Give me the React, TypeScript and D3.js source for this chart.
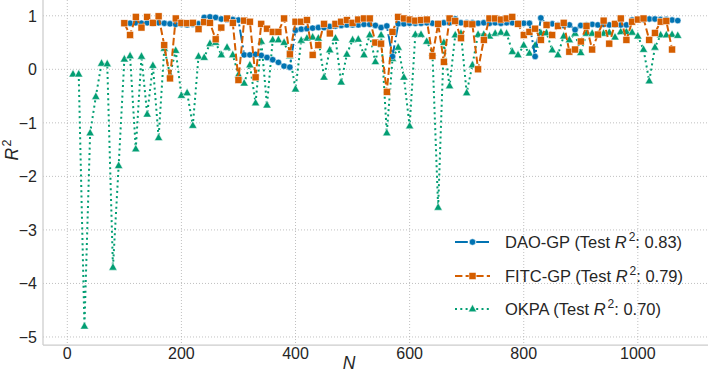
import React from "react";
import * as d3 from "d3";

// sample sizes and test R^2 per model
const daoN = [100, 110, 120, 130, 140, 150, 160, 170, 180, 190, 200, 210, 220, 230, 240, 250, 260, 270, 280, 290,
  300, 310, 320, 330, 340, 350, 360, 370, 380, 390, 400, 410, 420, 430, 440, 450, 460, 470, 480, 490,
  500, 510, 520, 530, 540, 550, 560, 570, 580, 590, 600, 610, 620, 630, 640, 650, 660, 670, 680, 690,
  700, 710, 720, 730, 740, 750, 760, 770, 780, 790, 800, 810, 820, 830, 840, 850, 860, 870, 880, 890,
  900, 910, 920, 930, 940, 950, 960, 970, 980, 990, 1000, 1010, 1020, 1030, 1040, 1050, 1060, 1070];
const daoR2 = [0.86, 0.86, 0.87, 0.86, 0.87, 0.86, 0.87, 0.86, 0.85, 0.84, 0.84, 0.83, 0.84, 0.85, 0.97, 0.98, 0.97, 0.94, 0.93, 0.93,
  0.92, 0.27, 0.27, 0.28, 0.26, 0.22, 0.18, 0.13, 0.06, 0.04, 0.73, 0.75, 0.76, 0.77, 0.78, 0.78, 0.8, 0.81, 0.82, 0.83,
  0.83, 0.83, 0.84, 0.84, 0.82, 0.78, 0.81, 0.24, 0.85, 0.85, 0.86, 0.86, 0.86, 0.87, 0.86, 0.86, 0.87, 0.87, 0.94, 0.87,
  0.87, 0.87, 0.86, 0.87, 0.86, 0.87, 0.86, 0.87, 0.87, 0.86, 0.86, 0.86, 0.24, 0.96, 0.84, 0.85, 0.83, 0.82, 0.83, 0.74,
  0.82, 0.83, 0.84, 0.83, 0.84, 0.83, 0.83, 0.83, 0.83, 0.92, 0.93, 0.93, 0.94, 0.94, 0.93, 0.93, 0.92, 0.91];

const fitcN = [100, 110, 120, 130, 140, 150, 160, 170, 180, 190, 200, 210, 220, 230, 240, 250, 260, 270, 280, 290,
  300, 310, 320, 330, 340, 350, 360, 370, 380, 390, 400, 410, 420, 430, 440, 450, 460, 470, 480, 490,
  500, 510, 520, 530, 540, 550, 560, 570, 580, 590, 600, 610, 620, 630, 640, 650, 660, 670, 680, 690,
  700, 710, 720, 730, 740, 750, 760, 770, 780, 790, 800, 810, 820, 830, 840, 850, 860, 870, 880, 890,
  900, 910, 920, 930, 940, 950, 960, 970, 980, 990, 1000, 1010, 1020, 1030, 1040, 1050, 1060];
const fitcR2 = [0.86, 0.64, 0.98, 0.78, 0.98, 0.87, 0.99, 0.45, -0.17, 0.95, 0.87, 0.86, 0.87, 0.75, 0.88, 0.87, 0.56, 0.78, 0.95, 0.87,
  -0.2, 0.91, 0.89, -0.15, 0.85, 0.76, 0.7, 0.7, 0.95, 0.28, 0.89, 0.89, 0.92, 0.27, 0.45, 0.85, 0.67, 0.85, 0.89, 0.92,
  0.87, 0.93, 0.95, 0.95, 0.5, 0.48, -0.42, 0.7, 0.98, 0.95, 0.93, 0.91, 0.92, 0.93, 0.25, 0.85, 0.14, 0.95, 0.9, 0.58,
  0.85, 0.84, 0.0, 0.55, 0.95, 0.95, 0.93, 0.95, 0.98, 0.85, 0.64, 0.7, 0.76, 0.55, 0.83, 0.64, 0.81, 0.87, 0.33, 0.37,
  0.52, 0.81, 0.37, 0.65, 0.91, 0.48, 0.85, 0.95, 0.55, 0.89, 0.93, 0.95, 0.55, 0.68, 0.89, 0.9, 0.37];

const okpaN = [10, 20, 30, 40, 50, 60, 70, 80, 90, 100, 110, 120, 130, 140, 150, 160, 170, 180, 190, 200,
  210, 220, 230, 240, 250, 260, 270, 280, 290, 300, 310, 320, 330, 340, 350, 360, 370, 380, 390, 400,
  410, 420, 430, 440, 450, 460, 470, 480, 490, 500, 510, 520, 530, 540, 550, 560, 570, 580, 590, 600,
  610, 620, 630, 640, 650, 660, 670, 680, 690, 700, 710, 720, 730, 740, 750, 760, 770, 780, 790, 800,
  810, 820, 830, 840, 850, 860, 870, 880, 890, 900, 910, 920, 930, 940, 950, 960, 970, 980, 990, 1000,
  1010, 1020, 1030, 1040, 1050, 1060, 1070];
const okpaR2 = [-0.09, -0.09, -4.8, -1.19, -0.51, 0.11, 0.1, -3.7, -1.8, 0.19, 0.25, -1.49, 0.24, -0.84, 0.07, -1.28, 0.39, -0.1, 0.35, -0.49,
  -0.44, -1.05, 0.24, 0.22, 0.48, 0.5, 0.27, 0.41, 0.27, -0.1, -0.26, 0.08, -0.63, 0.52, -0.67, 0.55, 0.55, 0.5, 0.25, -0.37,
  0.54, 0.58, 0.6, 0.58, -0.15, 0.36, 0.58, -0.24, 0.28, 0.55, 0.56, 0.27, 0.64, 0.14, 0.64, -1.19, 0.2, 0.41, -0.15, -1.06,
  0.65, 0.65, 0.52, 0.3, -2.58, 0.5, -0.31, 0.64, 0.67, -0.44, 0.08, 0.65, 0.65, 0.62, 0.67, 0.69, 0.67, 0.33, 0.27, 0.45,
  0.3, 0.45, 0.68, 0.68, 0.36, 0.27, 0.62, 0.55, 0.67, 0.31, 0.67, 0.67, 0.65, 0.67, 0.69, 0.6, 0.7, 0.7, 0.69, 0.62,
  0.37, -0.22, 0.41, 0.64, 0.64, 0.65, 0.63];

const xTicks = [0, 200, 400, 600, 800, 1000];
const yTicks = [-5, -4, -3, -2, -1, 0, 1];

const legendNames = ["DAO-GP", "FITC-GP", "OKPA"];
const legendScores = ["0.83", "0.79", "0.70"];

const W = 716;
const H = 372;
const left = 43, right = 708, top = 0, bottom = 345;
const font = "'Liberation Sans', Arial, sans-serif";
const ink = "#262626";

const colors = ["#0173b2", "#d55e00", "#029e73"];
const dashes = ["12.8,3.2,2,3.2", "7.4,3.2", "2,3.3"];

function Marker({ kind, cx, cy, color }) {
  if (kind === 0) {
    return <circle cx={cx} cy={cy} r={3.2} fill={color} stroke="#fff" strokeWidth={0.5} />;
  }
  if (kind === 1) {
    const s = 7;
    return <rect x={cx - s / 2} y={cy - s / 2} width={s} height={s} fill={color} stroke="#fff" strokeWidth={0.5} />;
  }
  const r = 4.6;
  const p = d3.path();
  p.moveTo(cx, cy - r);
  p.lineTo(cx + r * 0.9, cy + r * 0.6);
  p.lineTo(cx - r * 0.9, cy + r * 0.6);
  p.closePath();
  return <path d={p.toString()} fill={color} stroke="#fff" strokeWidth={0.5} />;
}

export default function App() {
  const x = d3.scaleLinear().domain([-42.6, 1123]).range([left, right]);
  const y = d3.scaleLinear().domain([-5.15, 1.295]).range([bottom, top]);

  const series = [
    { kind: 0, N: daoN, v: daoR2 },
    { kind: 1, N: fitcN, v: fitcR2 },
    { kind: 2, N: okpaN, v: okpaR2 },
  ];
  // draw order: OKPA, DAO-GP, FITC-GP
  const order = [2, 0, 1];

  const line = d3
    .line<[number, number]>()
    .x((d) => x(d[0]))
    .y((d) => y(d[1]));

  const legendY = [242, 276, 309];

  return (
    <svg width={W} height={H} style={{ position: "absolute", left: 0, top: 0, background: "#fff" }} fontFamily={font}>
      {/* grid */}
      {xTicks.map((t) => (
        <line key={"gx" + t} x1={x(t)} x2={x(t)} y1={top} y2={bottom} stroke="#b0b0b0" strokeWidth={0.8} strokeDasharray="1,2" />
      ))}
      {yTicks.map((t) => (
        <line key={"gy" + t} x1={left} x2={right} y1={y(t)} y2={y(t)} stroke="#b0b0b0" strokeWidth={0.8} strokeDasharray="1,2" />
      ))}
      {/* spines */}
      <line x1={left} x2={left} y1={top} y2={bottom} stroke="#cccccc" strokeWidth={1.25} />
      <line x1={left} x2={right} y1={bottom} y2={bottom} stroke="#cccccc" strokeWidth={1.25} />

      {/* tick labels */}
      {xTicks.map((t) => (
        <text key={"tx" + t} x={x(t)} y={358.5} textAnchor="middle" fontSize={16} fill={ink}>
          {t}
        </text>
      ))}
      {yTicks.map((t) => (
        <text key={"ty" + t} x={37} y={y(t) + 6} textAnchor="end" fontSize={16} fill={ink}>
          {t < 0 ? "\u2212" + Math.abs(t) : t}
        </text>
      ))}

      {/* axis labels */}
      <text x={349} y={369} textAnchor="middle" fontSize={17.5} fontStyle="italic" fill={ink}>
        N
      </text>
      <text transform={`translate(18,${150}) rotate(-90)`} textAnchor="middle" fontSize={17.5} fill={ink}>
        <tspan fontStyle="italic">R</tspan>
        <tspan fontSize={12.5} dx={1.5} dy={-7}>2</tspan>
      </text>

      {/* series */}
      {order.map((i) => {
        const s = series[i];
        const pts = s.N.map((n, k) => [n, s.v[k]] as [number, number]);
        return (
          <g key={"s" + i}>
            <path d={line(pts) || ""} fill="none" stroke={colors[i]} strokeWidth={2} strokeDasharray={dashes[i]} />
            {pts.map((d, k) => (
              <Marker key={k} kind={s.kind} cx={x(d[0])} cy={y(d[1])} color={colors[i]} />
            ))}
          </g>
        );
      })}

      {/* legend */}
      {legendNames.map((name, i) => (
        <g key={"l" + i}>
          <line x1={455} x2={490} y1={legendY[i]} y2={legendY[i]} stroke={colors[i]} strokeWidth={2} strokeDasharray={dashes[i]} />
          <Marker kind={i} cx={472.5} cy={legendY[i]} color={colors[i]} />
          <text x={505} y={legendY[i] + 6} fontSize={16.5} fill={ink}>
            {name + " (Test "}
            <tspan fontStyle="italic">R</tspan>
            <tspan fontSize={12} dx={2} dy={-7}>2</tspan>
            <tspan dy={7}>{": " + legendScores[i] + ")"}</tspan>
          </text>
        </g>
      ))}
    </svg>
  );
}
